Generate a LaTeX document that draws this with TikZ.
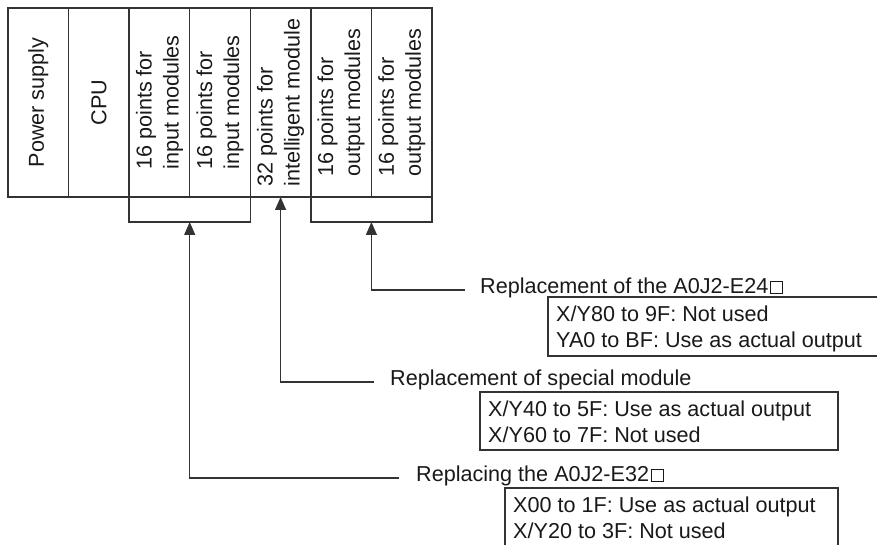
\documentclass[tikz,border=0pt]{standalone}
\usepackage{fontspec}
\setmainfont{Liberation Sans}
\usetikzlibrary{arrows.meta}
\newcommand{\wsq}{\kern1.5pt{\setlength{\fboxsep}{0pt}\setlength{\fboxrule}{1pt}\fbox{\rule{0pt}{11pt}\rule{11pt}{0pt}}}}
\begin{document}
\begin{tikzpicture}[x=1pt,y=-1pt,
  lc/.style={draw=black!80, line width=1.3pt},
  module/.style={lc, minimum width=60.57pt, minimum height=189pt, inner sep=0pt, outer sep=0pt},
  modtext/.style={rotate=90, align=left, font=\fontsize{21.6}{27}\selectfont, text=black!90, inner sep=0pt},
  title/.style={anchor=base west, font=\fontsize{21.6}{26}\selectfont, inner sep=0pt, text=black!90},
  boxline/.style={anchor=base west, font=\fontsize{21.6}{26}\selectfont, inner sep=0pt, text=black!90},
  infobox/.style={lc, anchor=north west, inner sep=0pt, outer sep=0pt},
  conn/.style={lc},
  arr/.style={lc, -{Triangle[length=13pt,width=11pt]}}
]
\useasboundingbox (0,0) rectangle (877,545);
\clip (0,0) rectangle (877,545);

% rack of modules
\node[module] (m1) at (38.29,102.5) {};
\node[module] (m2) at (98.86,102.5) {};
\node[module] (m3) at (159.43,102.5) {};
\node[module] (m4) at (220.00,102.5) {};
\node[module] (m5) at (280.57,102.5) {};
\node[module] (m6) at (341.14,102.5) {};
\node[module] (m7) at (401.71,102.5) {};

\node[modtext] (t1) at (m1) {Power supply};
\node[modtext] (t2) at (m2) {CPU};
\node[modtext] (t3) at (m3) {16 points for\\input modules};
\node[modtext] (t4) at (m4) {16 points for\\input modules};
\node[modtext] (t5) at (m5) {32 points for\\intelligent module};
\node[modtext] (t6) at (m6) {16 points for\\output modules};
\node[modtext] (t7) at (m7) {16 points for\\output modules};

% brackets
\draw[conn] (m3.south west) -- ++(0,25) -| (m4.south east);
\draw[conn] (m6.south west) -- ++(0,25) -| (m7.south east);
\coordinate (inb) at (189.71,222);
\coordinate (outb) at (371.43,222);

% titles
\node[title] (h1) at (480,293) {Replacement of the A0J2-E24\wsq};
\node[title] (h2) at (390,385) {Replacement of special module};
\node[title] (h3) at (416,481) {Replacing the A0J2-E32\wsq};

% connectors
\draw[arr] ([xshift=-15pt,yshift=3pt]h1.base west) -| (outb);
\draw[arr] ([xshift=-16pt,yshift=3pt]h2.base west) -| (m5.south);
\draw[arr] ([xshift=-17pt,yshift=3pt]h3.base west) -| (inb);

% info boxes
\node[infobox, minimum width=360pt, minimum height=59pt] (b1) at (548,297) {};
\node[boxline] (b1a) at ([xshift=8pt,yshift=-24pt]b1.north west) {X/Y80 to 9F: Not used};
\node[boxline] (b1b) at ([xshift=8pt,yshift=-50pt]b1.north west) {YA0 to BF: Use as actual output};

\node[infobox, minimum width=358pt, minimum height=58pt] (b2) at (480,392) {};
\node[boxline] (b2a) at ([xshift=8pt,yshift=-24pt]b2.north west) {X/Y40 to 5F: Use as actual output};
\node[boxline] (b2b) at ([xshift=8pt,yshift=-50pt]b2.north west) {X/Y60 to 7F: Not used};

\node[infobox, minimum width=333pt, minimum height=80pt] (b3) at (505,488) {};
\node[boxline] (b3a) at ([xshift=8pt,yshift=-24pt]b3.north west) {X00 to 1F: Use as actual output};
\node[boxline] (b3b) at ([xshift=8pt,yshift=-50pt]b3.north west) {X/Y20 to 3F: Not used};
\end{tikzpicture}
\end{document}
